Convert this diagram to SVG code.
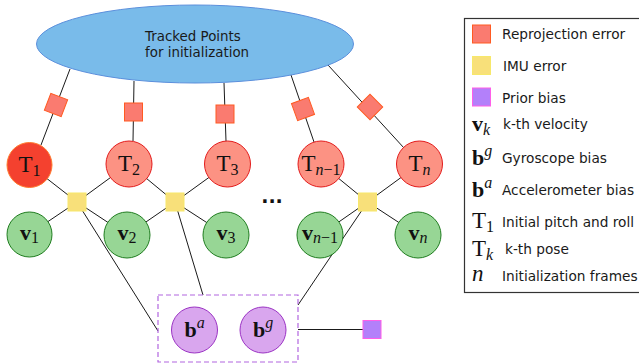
<svg xmlns="http://www.w3.org/2000/svg" width="639" height="364" viewBox="0 0 639 364">
<style>
.lbl{font-family:"DejaVu Sans","Liberation Sans",sans-serif;font-size:13.4px;fill:#1a1a1a}
.lg{font-size:13.7px}
.m{font-family:"Liberation Serif","DejaVu Serif",serif;fill:#111;font-size:23px}
.mb{font-family:"Liberation Serif","DejaVu Serif",serif;fill:#111;font-size:22px;font-weight:bold}
.sub{font-size:16px;font-weight:normal}
.it{font-style:italic}
.ln{stroke:#1a1a1a;stroke-width:1;fill:none}
.rep{fill:#fa7b70;stroke:#ff5a22;stroke-width:1}
.imu{fill:#f8e07a;stroke:#f7e86a;stroke-width:1}
.pri{fill:#b380fa;stroke:#ff5ee8;stroke-width:1}
.tn{fill:#fc9283;stroke:#e31b1b;stroke-width:1}
.vn{fill:#97d695;stroke:#207d20;stroke-width:1}
.bn{fill:#d9a6ee;stroke:#9b33c4;stroke-width:1}
</style>
<defs>
<rect id="sq" x="-9" y="-9" width="18" height="18"/>
</defs>
<g id="connectors">
<line class="ln" x1="70" y1="69" x2="41" y2="145"/>
<line class="ln" x1="134" y1="81" x2="133" y2="141"/>
<line class="ln" x1="224" y1="83" x2="226" y2="141"/>
<line class="ln" x1="291" y1="75" x2="314" y2="142"/>
<line class="ln" x1="328" y1="65" x2="404" y2="148"/>
<line class="ln" x1="77" y1="202" x2="29.5" y2="165"/>
<line class="ln" x1="77" y1="202" x2="129" y2="164"/>
<line class="ln" x1="77" y1="202" x2="29.5" y2="234"/>
<line class="ln" x1="77" y1="202" x2="127" y2="235"/>
<line class="ln" x1="175" y1="202" x2="129" y2="164"/>
<line class="ln" x1="175" y1="202" x2="227.5" y2="164"/>
<line class="ln" x1="175" y1="202" x2="127" y2="235"/>
<line class="ln" x1="175" y1="202" x2="226" y2="235"/>
<line class="ln" x1="367.5" y1="202" x2="321" y2="164"/>
<line class="ln" x1="367.5" y1="202" x2="419.5" y2="164"/>
<line class="ln" x1="367.5" y1="202" x2="320" y2="235"/>
<line class="ln" x1="367.5" y1="202" x2="418" y2="235"/>
<line class="ln" x1="77" y1="202" x2="158" y2="331"/>
<line class="ln" x1="175" y1="202" x2="203" y2="295"/>
<line class="ln" x1="367.5" y1="202" x2="298" y2="305"/>
<line class="ln" x1="298" y1="329.5" x2="363" y2="329.5"/>
</g>
<g id="tracked-points">
<ellipse cx="195" cy="44" rx="158.5" ry="39" fill="#79bbea" stroke="#5b8fdc" stroke-width="1"/>
<text class="lbl" x="145" y="41">Tracked Points</text>
<text class="lbl" x="145" y="57">for initialization</text>
</g>
<g id="rep1"><use href="#sq" class="rep" transform="translate(56 105) rotate(21)"/></g>
<g id="rep2"><use href="#sq" class="rep" transform="translate(133.5 112)"/></g>
<g id="rep3"><use href="#sq" class="rep" transform="translate(225 114)"/></g>
<g id="rep4"><use href="#sq" class="rep" transform="translate(303 109) rotate(-20)"/></g>
<g id="rep5"><use href="#sq" class="rep" transform="translate(370 107) rotate(-45)"/></g>
<g id="T1"><circle cx="29.5" cy="165" r="22.5" fill="#f4412f" stroke="#ff7a2e" stroke-width="1"/><text class="m" x="29.5" y="172" text-anchor="middle">T<tspan class="sub" dy="4">1</tspan></text></g>
<g id="T2"><circle class="tn" cx="129" cy="164" r="23"/><text class="m" x="129" y="171" text-anchor="middle">T<tspan class="sub" dy="4">2</tspan></text></g>
<g id="T3"><circle class="tn" cx="227.5" cy="164" r="23"/><text class="m" x="227.5" y="171" text-anchor="middle">T<tspan class="sub" dy="4">3</tspan></text></g>
<g id="Tn1"><circle class="tn" cx="321" cy="164" r="23"/><text class="m" x="321" y="171" text-anchor="middle">T<tspan class="sub" dy="4"><tspan class="it">n</tspan>−1</tspan></text></g>
<g id="Tn"><circle class="tn" cx="419.5" cy="164" r="23"/><text class="m" x="419.5" y="171" text-anchor="middle">T<tspan class="sub it" dy="4">n</tspan></text></g>
<g id="v1"><circle class="vn" cx="29.5" cy="234.5" r="22.5"/><text class="mb" x="29.5" y="240" text-anchor="middle">v<tspan class="sub" dy="3">1</tspan></text></g>
<g id="v2"><circle class="vn" cx="127" cy="235" r="23"/><text class="mb" x="127" y="240" text-anchor="middle">v<tspan class="sub" dy="3">2</tspan></text></g>
<g id="v3"><circle class="vn" cx="226" cy="235" r="23"/><text class="mb" x="226" y="240" text-anchor="middle">v<tspan class="sub" dy="3">3</tspan></text></g>
<g id="vn1"><circle class="vn" cx="320" cy="235" r="23"/><text class="mb" x="320" y="240" text-anchor="middle">v<tspan class="sub" dy="3"><tspan class="it">n</tspan>−1</tspan></text></g>
<g id="vn"><circle class="vn" cx="418" cy="235" r="23"/><text class="mb" x="418" y="240" text-anchor="middle">v<tspan class="sub it" dy="3">n</tspan></text></g>
<g id="dots"><text x="272" y="203" text-anchor="middle" font-family="DejaVu Sans, sans-serif" font-size="19" font-weight="bold" fill="#111">...</text></g>
<g id="imu1"><use href="#sq" class="imu" transform="translate(77 202)"/></g>
<g id="imu2"><use href="#sq" class="imu" transform="translate(175 202)"/></g>
<g id="imu3"><use href="#sq" class="imu" transform="translate(367.5 202)"/></g>
<g id="bias-box">
<rect x="158" y="295" width="140" height="67" fill="none" stroke="#b266e0" stroke-width="1.2" stroke-dasharray="5,3"/>
</g>
<g id="ba"><circle class="bn" cx="194.5" cy="330" r="23"/><text class="mb" x="194.5" y="337" text-anchor="middle">b<tspan class="sub it" dy="-9">a</tspan></text></g>
<g id="bg"><circle class="bn" cx="263" cy="330" r="23"/><text class="mb" x="263" y="337" text-anchor="middle">b<tspan class="sub it" dy="-9">g</tspan></text></g>
<g id="prior"><use href="#sq" class="pri" transform="translate(372 329.5)"/></g>
<g id="legend">
<rect x="464.5" y="18.5" width="190" height="274" fill="#fff" stroke="#333" stroke-width="1.2"/>
<use href="#sq" class="rep" transform="translate(481.5 34)"/>
<text class="lbl lg" x="502" y="39">Reprojection error</text>
<use href="#sq" class="imu" transform="translate(481.5 65.5)"/>
<text class="lbl lg" x="503" y="71">IMU error</text>
<use href="#sq" class="pri" transform="translate(481.5 97)"/>
<text class="lbl lg" x="502" y="103">Prior bias</text>
<text class="mb" x="472" y="131">v<tspan class="sub it" dy="4">k</tspan></text>
<text class="lbl lg" x="503" y="129">k-th velocity</text>
<text class="mb" x="472" y="165">b<tspan class="sub it" dy="-9">g</tspan></text>
<text class="lbl lg" x="502" y="163">Gyroscope bias</text>
<text class="mb" x="472" y="197">b<tspan class="sub it" dy="-9">a</tspan></text>
<text class="lbl lg" x="502" y="195">Accelerometer bias</text>
<text class="m" x="472" y="228">T<tspan class="sub" dy="4">1</tspan></text>
<text class="lbl lg" x="502" y="227">Initial pitch and roll</text>
<text class="m" x="472" y="256">T<tspan class="sub it" dy="4">k</tspan></text>
<text class="lbl lg" x="505" y="254">k-th pose</text>
<text class="m it" x="472" y="281">n</text>
<text class="lbl lg" x="502" y="281">Initialization frames</text>
</g>
</svg>
